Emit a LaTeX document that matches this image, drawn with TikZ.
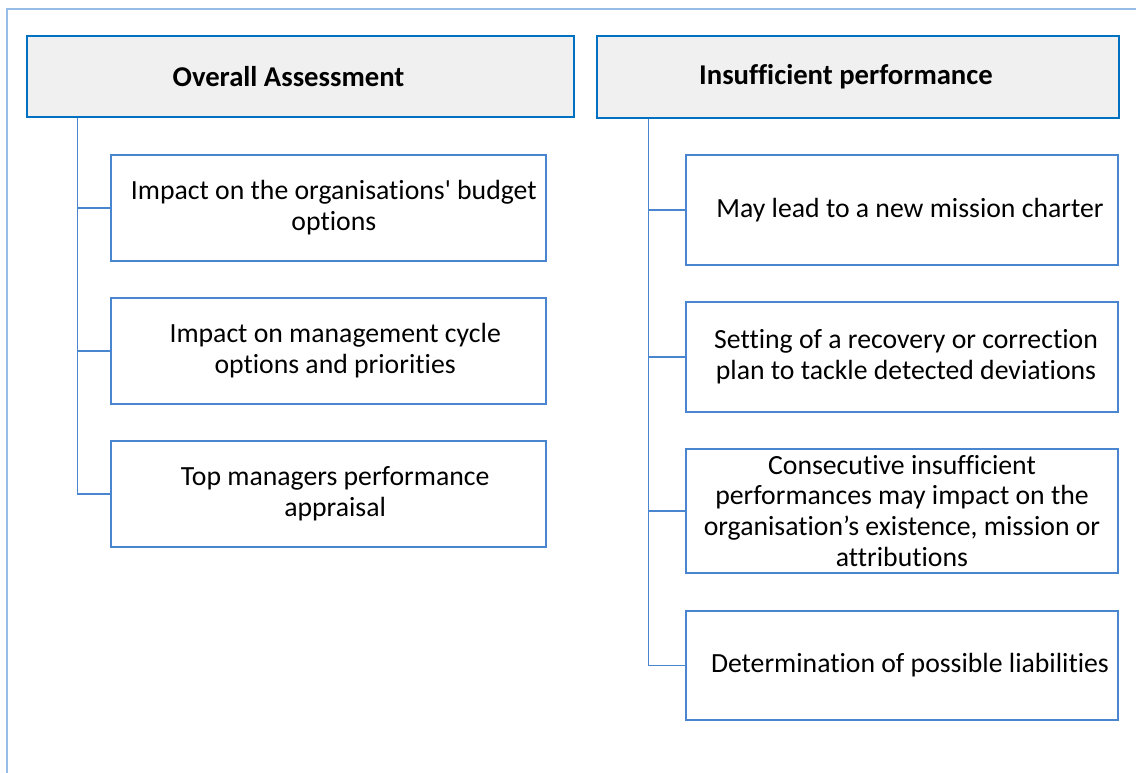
\documentclass[tikz,border=0pt]{standalone}
\usepackage{fontspec}
\setmainfont{Carlito}[Ligatures=NoCommon]
\definecolor{framebl}{HTML}{95BDE8}
\definecolor{headbl}{HTML}{0070C0}
\definecolor{boxbl}{HTML}{4A86D0}
\definecolor{headfill}{HTML}{F0F0F0}
\tikzset{
  headbox/.style={draw=headbl, line width=1.6pt, fill=headfill, inner sep=0pt,
    font=\bfseries\fontsize{21.5}{24}\selectfont},
  itembox/.style={draw=boxbl, line width=0.8pt, fill=white, inner sep=0pt,
    align=center, font=\fontsize{20.8}{23.2}\selectfont},
  branch/.style={draw=boxbl, line width=0.8pt},
}
\begin{document}
\begin{tikzpicture}[x=0.75pt,y=-0.75pt]
\useasboundingbox (0,0) rectangle (1136,773);
\draw[framebl, line width=1.5pt] (7,773) -- (7,9.5) -- (1136,9.5);

% left column
\node[headbox, minimum width=410.25pt, minimum height=60.75pt] (oa) at (300.5,76.5){Overall Assessment\hspace*{18pt}};
\node[itembox, minimum width=326.25pt, minimum height=79.5pt] (oa1) at (328.5,208){\hspace*{8pt}Impact on the organisations\textquotesingle{} budget\\\hspace*{8pt}options};
\node[itembox, minimum width=326.25pt, minimum height=79.5pt] (oa2) at (328.5,351){\hspace*{10pt}Impact on management cycle\\\hspace*{10pt}options and priorities};
\node[itembox, minimum width=326.25pt, minimum height=79.5pt] (oa3) at (328.5,494){\hspace*{10pt}Top managers performance\\\hspace*{10pt}appraisal};
\draw[branch] ([xshift=39pt]oa.south west) |- (oa3.west);
\draw[branch] ([xshift=39pt]oa.south west) |- (oa1.west);
\draw[branch] ([xshift=39pt]oa.south west) |- (oa2.west);

% right column
\node[headbox, minimum width=391.5pt, minimum height=61.5pt] (ip) at (858,77){Insufficient performance\hspace*{18pt}};
\node[itembox, minimum width=324pt, minimum height=82.5pt] (ip1) at (902,210){\hspace*{12pt}May lead to a new mission charter};
\node[itembox, minimum width=324pt, minimum height=82.5pt] (ip2) at (902,357){\hspace*{6pt}Setting of a recovery or correction\\\hspace*{6pt}plan to tackle detected deviations};
\node[itembox, minimum width=324pt, minimum height=93pt] (ip3) at (902,511){Consecutive insufficient\\performances may impact on the\\organisation’s existence, mission or\\attributions};
\node[itembox, minimum width=324pt, minimum height=81.75pt] (ip4) at (902,665.5){\hspace*{12pt}Determination of possible liabilities};
\draw[branch] ([xshift=39.75pt]ip.south west) |- (ip4.west);
\draw[branch] ([xshift=39.75pt]ip.south west) |- (ip1.west);
\draw[branch] ([xshift=39.75pt]ip.south west) |- (ip2.west);
\draw[branch] ([xshift=39.75pt]ip.south west) |- (ip3.west);
\end{tikzpicture}
\end{document}
